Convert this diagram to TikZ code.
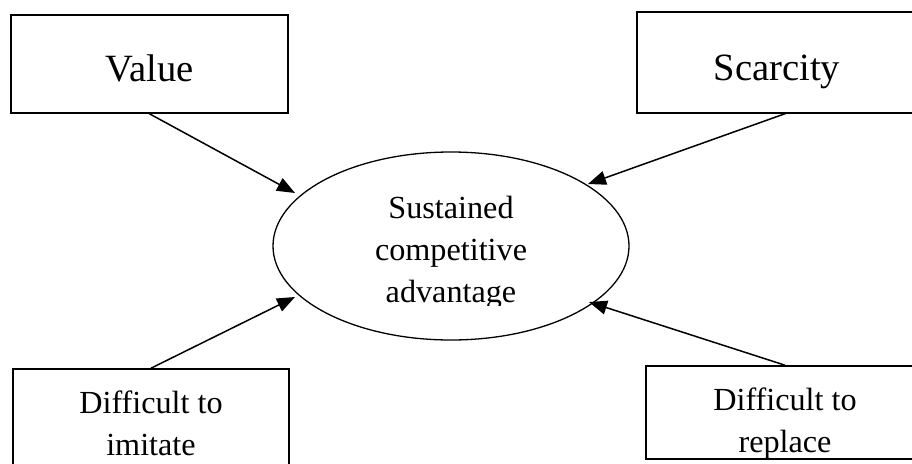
\documentclass[tikz,border=0pt]{standalone}
\usepackage{fontspec}
\setmainfont{Liberation Serif}
\usetikzlibrary{arrows.meta,shapes.geometric}
\begin{document}
\begin{tikzpicture}[x=1pt,y=-1pt,
  box/.style={draw=black,line width=1.6pt,inner sep=0pt,fill=none},
  bigtxt/.style={font=\fontsize{38.6}{44}\selectfont,inner sep=0pt,anchor=base},
  midtxt/.style={font=\fontsize{32.2}{41.8}\selectfont,inner sep=0pt,anchor=base,align=center},
  conn/.style={line width=1.5pt,-{Triangle[length=18pt,width=14pt]}}]
\useasboundingbox (0,0) rectangle (912,463);
% boxes
\node[box,minimum width=277pt,minimum height=98pt] (val) at (149.5,64) {};
\node[bigtxt] (valt) at (149.5,81.5) {Value};
\node[box,minimum width=280pt,minimum height=101pt] (scar) at (777,62.5) {};
\node[bigtxt] (scart) at (777,80) {Scarcity};
\node[box,minimum width=276pt,minimum height=110pt] (imi) at (151,424) {};
\node[midtxt] (imit) at (151,455) {Difficult to\\imitate};
\node[box,minimum width=278pt,minimum height=93pt] (rep) at (785,412.5) {};
\begin{scope}
\clip (600,366) rectangle (912,458);
\node[midtxt] (rept) at (785,452) {Difficult to\\replace};
\end{scope}
% ellipse
\node[ellipse,draw=black,line width=1.3pt,minimum width=356pt,minimum height=188pt,inner sep=0pt] (sca) at (451,246) {};
\begin{scope}
\clip (280,150) rectangle (620,305);
\node[midtxt] (scat) at (451,302) {Sustained\\competitive\\advantage};
\end{scope}
% arrow tips
\coordinate (t1) at (295,193);
\coordinate (t2) at (588,184);
\coordinate (t3) at (295,297);
\coordinate (t4) at (589,302);
\coordinate (s2) at (787,113);
\draw[conn] (val.south) -- (t1);
\draw[conn] (s2) -- (t2);
\draw[conn] (imi.north) -- (t3);
\draw[conn] (rep.north) -- (t4);
\end{tikzpicture}
\end{document}
